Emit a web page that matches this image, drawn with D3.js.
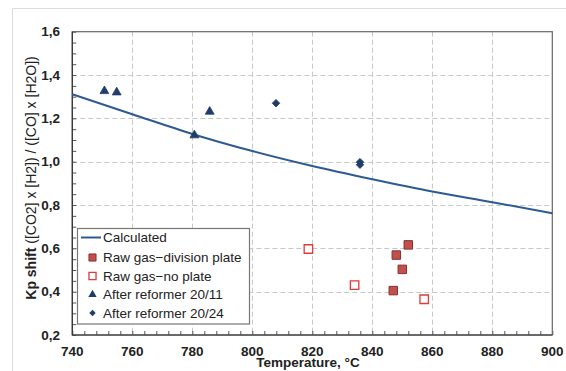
<!DOCTYPE html>
<html><head><meta charset="utf-8">
<script src="https://cdnjs.cloudflare.com/ajax/libs/d3/7.8.5/d3.min.js"></script>
<style>body{margin:0;background:#fff;}svg{display:block;font-family:"Liberation Sans",Arial,sans-serif;}</style>
</head><body>
<svg id="c" width="566" height="371"></svg>
<script>
const calcT = [740,760,780,800,820,840,860,880,900];
const calcK = [1.311,1.219,1.128,1.049,0.98,0.919,0.862,0.813,0.762];
const divPlateT = [852,848,850,847];
const divPlateK = [0.616,0.569,0.503,0.405];
const noPlateT = [818.7,834.1,857.3];
const noPlateK = [0.597,0.43,0.365];
const ref11T = [750.7,754.8,780.7,785.8];
const ref11K = [1.326,1.32,1.122,1.231];
const ref24T = [807.9,835.9,835.9];
const ref24K = [1.27,0.998,0.986];
const xTicks = [740,760,780,800,820,840,860,880,900];
const yTicks = [0.2,0.4,0.6,0.8,1.0,1.2,1.4,1.6];
const legendLabels = ["Calculated","Raw gas\u2212division plate","Raw gas\u2212no plate","After reformer 20/11","After reformer 20/24"];

const svg = d3.select("#c");
const L=72.3,R=552.3,T=31.7,B=335;
const x = d3.scaleLinear().domain([740,900]).range([L,R]);
const y = d3.scaleLinear().domain([0.2,1.6]).range([B,T]);
const fmt = v => d3.format(".1f")(v).replace(".",",");

svg.append("line").attr("x1",12.5).attr("x2",566).attr("y1",8.5).attr("y2",8.5).attr("stroke","#dcdcdc");
svg.append("line").attr("x1",12.5).attr("x2",12.5).attr("y1",8.5).attr("y2",371).attr("stroke","#dcdcdc");

const grid = svg.append("g").attr("stroke","#c8c8c8").attr("stroke-dasharray","5,3").attr("stroke-width",1);
xTicks.slice(1,-1).forEach(t=>grid.append("line").attr("x1",Math.round(x(t))+0.5).attr("x2",Math.round(x(t))+0.5).attr("y1",T).attr("y2",B));
yTicks.slice(1,-1).forEach(t=>grid.append("line").attr("y1",Math.round(y(t))+0.5).attr("y2",Math.round(y(t))+0.5).attr("x1",L).attr("x2",R));

const xAx = svg.append("g").attr("transform",`translate(0,${B})`)
  .call(d3.axisBottom(x).tickValues(d3.range(740,901,4)).tickSize(-4).tickFormat(""));
const yAx = svg.append("g").attr("transform",`translate(${L},0)`)
  .call(d3.axisLeft(y).tickValues(d3.range(0.2,1.6001,0.05)).tickSize(-4).tickFormat(""));
[xAx,yAx].forEach(a=>{a.select(".domain").remove();a.selectAll("line").attr("stroke","#555");});

svg.append("g").selectAll("text").data(xTicks).join("text")
  .attr("x",d=>x(d)).attr("y",356).attr("text-anchor","middle")
  .attr("font-size",13.5).attr("font-weight","bold").attr("fill","#222").text(d=>d);
svg.append("g").selectAll("text").data(yTicks).join("text")
  .attr("x",60).attr("y",d=>y(d)+4.5).attr("text-anchor","end")
  .attr("font-size",13.5).attr("font-weight","bold").attr("fill","#222").text(fmt);

svg.append("rect").attr("x",L).attr("y",T).attr("width",R-L).attr("height",B-T)
  .attr("fill","none").attr("stroke","#666").attr("stroke-width",1.2);
svg.append("line").attr("x1",L).attr("x2",L).attr("y1",T).attr("y2",B).attr("stroke","#333").attr("stroke-width",1.2);
svg.append("line").attr("x1",L).attr("x2",R).attr("y1",B).attr("y2",B).attr("stroke","#333").attr("stroke-width",1.2);

svg.append("text").attr("x",308).attr("y",367).attr("text-anchor","middle")
  .attr("font-size",13.5).attr("font-weight","bold").attr("fill","#222").text("Temperature, \u00B0C");
const yt = svg.append("text").attr("transform","translate(36,178) rotate(-90)").attr("text-anchor","middle")
  .attr("font-size",14).attr("fill","#222");
yt.append("tspan").attr("font-weight","bold").text("Kp shift");
yt.append("tspan").text("  ([CO2] x [H2]) / ([CO] x [H2O])");

const lineCol="#2e5a93", navy="#1f3d6b";
const calc = calcT.map((t,i)=>[t,calcK[i]]);
svg.append("path").datum(calc).attr("fill","none").attr("stroke",lineCol).attr("stroke-width",2)
  .attr("d",d3.line().x(d=>x(d[0])).y(d=>y(d[1])).curve(d3.curveMonotoneX));

const sq = d3.symbol().type(d3.symbolSquare).size(72);
const tri = d3.symbol().type(d3.symbolTriangle).size(34);
const dia = d3.symbol().type(d3.symbolSquare).size(28);
function pts(T,K,sym,fill,stroke,sw,rot){
  svg.append("g").selectAll("path").data(T.map((t,i)=>[t,K[i]])).join("path")
    .attr("transform",d=>`translate(${x(d[0])},${y(d[1])}) rotate(${rot||0})`).attr("d",sym)
    .attr("fill",fill).attr("stroke",stroke).attr("stroke-width",sw);
}
pts(divPlateT,divPlateK,sq,"#c0504d","#8a3030",1);
pts(noPlateT,noPlateK,sq,"#fff","#e03a3a",1.3);
pts(ref11T,ref11K,tri,navy,navy,0.8);
pts(ref24T,ref24K,dia,navy,navy,0.8,45);

const lg = svg.append("g");
lg.append("rect").attr("x",77.5).attr("y",228.5).attr("width",172).attr("height",95.5)
  .attr("fill","#fff").attr("stroke","#777").attr("stroke-width",1.2);
const ly = [237.5,257.5,276,294.5,313];
lg.append("line").attr("x1",81).attr("x2",101).attr("y1",ly[0]).attr("y2",ly[0]).attr("stroke",lineCol).attr("stroke-width",2);
const sqS = d3.symbol().type(d3.symbolSquare).size(50);
lg.append("path").attr("transform",`translate(92.5,${ly[1]})`).attr("d",sqS).attr("fill","#c0504d").attr("stroke","#8a3030");
lg.append("path").attr("transform",`translate(92.5,${ly[2]})`).attr("d",sqS).attr("fill","#fff").attr("stroke","#e03a3a").attr("stroke-width",1.3);
lg.append("path").attr("transform",`translate(92.5,${ly[3]})`).attr("d",d3.symbol().type(d3.symbolTriangle).size(30)).attr("fill",navy);
lg.append("path").attr("transform",`translate(92.5,${ly[4]}) rotate(45)`).attr("d",d3.symbol().type(d3.symbolSquare).size(20)).attr("fill",navy);
lg.selectAll("text.l").data(legendLabels).join("text").attr("class","l")
  .attr("x",103).attr("y",(d,i)=>ly[i]+4.5).attr("font-size",13.5).attr("fill","#222").text(d=>d);
</script>
</body></html>
